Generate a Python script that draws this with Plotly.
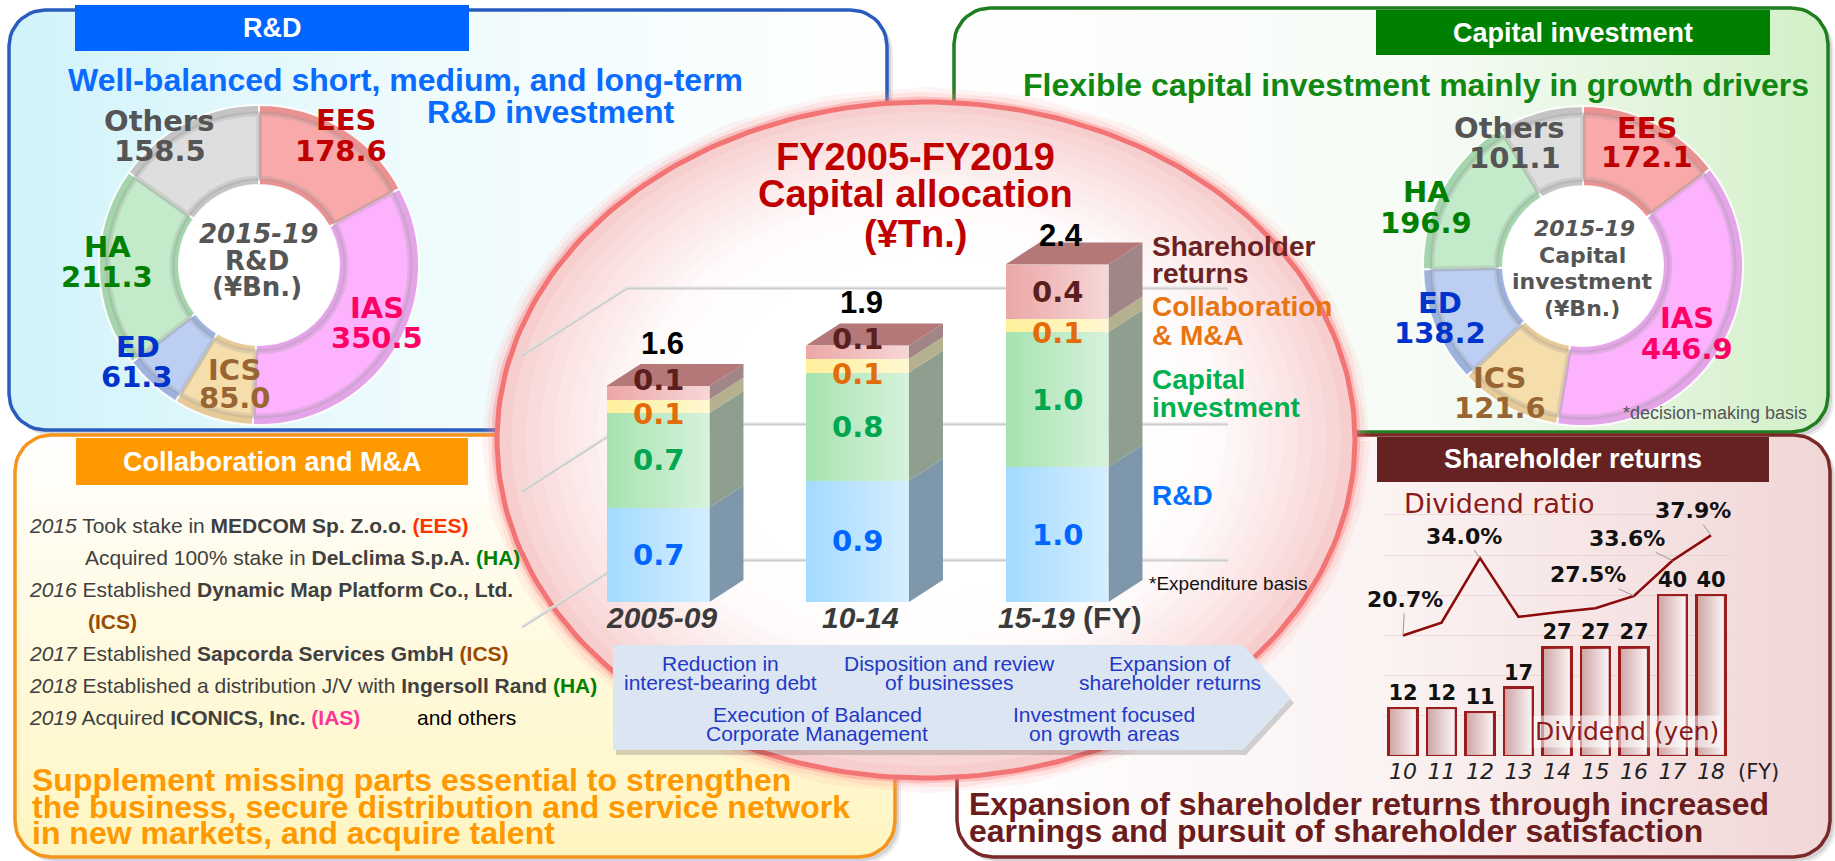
import numpy as np
import plotly.graph_objects as go

W, H = 1835, 861
ARIAL = "Liberation Sans, Arial, sans-serif"
VERD = "DejaVu Sans, Verdana, sans-serif"

# ---------------- data ----------------
rd_segments = ["EES", "IAS", "ICS", "ED", "HA", "Others"]
rd_values = [178.6, 350.5, 85.0, 61.3, 211.3, 158.5]

capex_segments = ["EES", "IAS", "ICS", "ED", "HA", "Others"]
capex_values = [172.1, 446.9, 121.6, 138.2, 196.9, 101.1]

periods = ["2005-09", "10-14", "15-19"]
alloc_rd = [0.7, 0.9, 1.0]
alloc_capex = [0.7, 0.8, 1.0]
alloc_ma = [0.1, 0.1, 0.1]
alloc_returns = [0.1, 0.1, 0.4]
alloc_totals = [1.6, 1.9, 2.4]

fiscal_years = ["10", "11", "12", "13", "14", "15", "16", "17", "18"]
dividend_yen = [12, 12, 11, 17, 27, 27, 27, 40, 40]
payout_ratio = [20.7, 22.9, 34.0, 23.9, 24.7, 25.4, 27.5, 33.6, 37.9]
payout_labelled = [0, 2, 6, 7, 8]

# ---------------- helpers ----------------
fig = go.Figure()


def px(x):
    return x / W


def py(y):
    return 1 - y / H


def canvas(xs, ys, **kw):
    fig.add_trace(go.Scatter(x=list(xs), y=[H - v for v in ys], xaxis="x", yaxis="y",
                             hoverinfo="skip", showlegend=False, **kw))


def rounded_rect(x0, y0, x1, y1, r, n=12):
    pts = []
    for cx, cy, a0, a1 in [(x1 - r, y0 + r, -90, 0), (x1 - r, y1 - r, 0, 90),
                           (x0 + r, y1 - r, 90, 180), (x0 + r, y0 + r, 180, 270)]:
        for a in np.linspace(a0, a1, n):
            t = np.radians(a)
            pts.append((cx + r * np.cos(t), cy + r * np.sin(t)))
    pts.append(pts[0])
    return [p[0] for p in pts], [p[1] for p in pts]


def ellipse(cx, cy, rx, ry, n=240):
    t = np.linspace(0, 2 * np.pi, n)
    return cx + rx * np.cos(t), cy + ry * np.sin(t)


def text(x, y, s, size, color, family=ARIAL, xanchor="center", **kw):
    fig.add_annotation(x=px(x), y=py(y), xref="paper", yref="paper", text=s, showarrow=False,
                       font=dict(family=family, size=size, color=color),
                       xanchor=xanchor, yanchor="middle", **kw)


NOLINE = dict(color="rgba(0,0,0,0)", width=0)

# ---------------- panels ----------------
panels = [
    (9, 10, 887, 430, "#2a5cbf", "horizontal", [[0, "#d0f3fa"], [0.45, "#eefbfd"], [1, "#ffffff"]]),
    (954, 8, 1828, 432, "#1f7f1f", "horizontal", [[0, "#ffffff"], [0.55, "#f6fbf5"], [1, "#d2f0c8"]]),
    (15, 435, 895, 857, "#f7941d", "vertical", [[0, "#fff5c0"], [0.6, "#fffbe6"], [1, "#ffffff"]]),
    (957, 435, 1830, 857, "#7a2828", "horizontal", [[0, "#ffffff"], [0.5, "#fbf2f2"], [1, "#f1d6d6"]]),
]
for x0, y0, x1, y1, border, gtype, cs in panels:
    for off, alpha in [(6, 0.07), (4, 0.10)]:
        xs, ys = rounded_rect(x0 + off, y0 + off, x1 + off, y1 + off, 36)
        canvas(xs, ys, mode="lines", fill="toself", fillcolor=f"rgba(0,0,0,{alpha})", line=NOLINE)
for x0, y0, x1, y1, border, gtype, cs in panels:
    xs, ys = rounded_rect(x0, y0, x1, y1, 36)
    canvas(xs, ys, mode="lines", fill="toself", fillgradient=dict(type=gtype, colorscale=cs),
           line=dict(color=border, width=3.5))

# header boxes
headers = [
    (75, 5, 469, 51, "#0066ff", "R&D"),
    (1376, 10, 1770, 55, "#008000", "Capital investment"),
    (76, 438, 468, 485, "#ff9900", "Collaboration and M&A"),
    (1377, 437, 1769, 482, "#662222", "Shareholder returns"),
]
for x0, y0, x1, y1, col, _ in headers:
    canvas([x0, x1, x1, x0, x0], [y0, y0, y1, y1, y0], mode="lines", fill="toself",
           fillcolor=col, line=NOLINE)

# white centres behind the donut holes
for cx, cy in [(259, 265), (1583, 266)]:
    xs, ys = ellipse(cx, cy, 81, 81, 120)
    canvas(xs, ys, mode="lines", fill="toself", fillcolor="#ffffff",
           line=dict(color="rgba(160,160,160,0.35)", width=2))

# ---------------- central ellipse ----------------
ECX, ECY, ERX, ERY = 926, 440, 429, 338
exs, eys = ellipse(ECX, ECY, ERX, ERY)
for w, c in [(30, "rgba(255,150,150,0.10)"), (20, "rgba(255,140,140,0.16)"), (11, "rgba(250,110,110,0.30)")]:
    canvas(exs, eys, mode="lines", line=dict(color=c, width=w))
# soft pink rim fading to a white centre, built from nested ellipses
edge_rgb, mid_rgb = np.array([246, 206, 206]), np.array([255, 250, 250])
for s in np.linspace(1.0, 0.5, 16):
    t = (1.0 - s) / 0.5
    if t < 0.6:
        rgb = edge_rgb + (mid_rgb - edge_rgb) * (t / 0.6) ** 0.8
    else:
        rgb = mid_rgb + (np.array([255, 255, 255]) - mid_rgb) * ((t - 0.6) / 0.4)
    col = "rgb({},{},{})".format(*[int(round(c)) for c in rgb])
    sx, sy = ellipse(ECX, ECY - (1 - s) * 30, ERX * s, ERY * s)
    canvas(sx, sy, mode="lines", fill="toself", fillcolor=col, line=NOLINE)
canvas(exs, eys, mode="lines", line=dict(color="#f27474", width=5))

# back-wall grid lines and floor diagonals of the 3D bar chart
for g in [288, 424, 560]:
    canvas([522, 627, 1228], [g + 67, g, g], mode="lines", line=dict(color="#cdcdcd", width=3))
    canvas([522, 627, 1228], [g + 66, g - 1, g - 1], mode="lines",
           line=dict(color="rgba(255,255,255,0.7)", width=1))

# arrow box
arrow_x = [613, 1243, 1291, 1243, 613, 613]
arrow_y = [645, 645, 698, 750, 750, 645]
canvas([v + 3 for v in arrow_x], [v + 5 for v in arrow_y], mode="lines", fill="toself",
       fillcolor="rgba(0,0,0,0.16)", line=NOLINE)
canvas(arrow_x, arrow_y, mode="lines", fill="toself", fillcolor="#dce6f2", line=NOLINE)

# ---------------- 3D stacked bars (x2 / y2) ----------------
BAR_W = 0.516
DX, DY = 34 / 199.5, 22 / 135
segments = [
    ("R&D", alloc_rd, "#a3daff", "#7f97ab", "#0066ff"),
    ("Capital investment", alloc_capex, "#a6e3b0", "#8e9f8f", "#00a650"),
    ("Collaboration & M&A", alloc_ma, "#fff09a", "#b5b18e", "#e36c0a"),
    ("Shareholder returns", alloc_returns, "#eca6a6", "#a08686", "#5c1f1f"),
]
xs_idx = list(range(len(periods)))
for name, vals, front, side, lab in segments:
    fig.add_trace(go.Bar(x=xs_idx, y=vals, width=BAR_W, marker=dict(color=front, line=dict(width=0)),
                         xaxis="x2", yaxis="y2", hoverinfo="skip", showlegend=False, name=name))

base = [0.0] * len(periods)
for name, vals, front, side, lab in segments:
    for i, v in enumerate(vals):
        b, t = base[i], base[i] + v
        xr = i + BAR_W / 2
        fig.add_trace(go.Scatter(x=[xr, xr + DX, xr + DX, xr, xr], y=[b, b + DY, t + DY, t, b],
                                 mode="lines", fill="toself", fillcolor=side, line=NOLINE,
                                 xaxis="x2", yaxis="y2", hoverinfo="skip", showlegend=False))
        # segment value label
        nudge = 0
        if v < 0.15 and name == "Shareholder returns":
            nudge = 13
        elif v < 0.15 and name == "Collaboration & M&A":
            nudge = -8
        fig.add_annotation(x=i, y=b + v / 2, xref="x2", yref="y2", text=f"<b>{v:.1f}</b>",
                           showarrow=False, yshift=nudge,
                           font=dict(family=VERD, size=29, color=lab))
        base[i] = t

for i, top in enumerate(base):
    xl, xr = i - BAR_W / 2, i + BAR_W / 2
    # highlight sweep on the front face
    fig.add_trace(go.Scatter(x=[xl, xr, xr, xl, xl], y=[0, 0, top, top, 0], mode="lines", fill="toself",
                             fillgradient=dict(type="horizontal",
                                               colorscale=[[0, "rgba(255,255,255,0)"],
                                                           [1, "rgba(255,255,255,0.55)"]]),
                             line=NOLINE, xaxis="x2", yaxis="y2", hoverinfo="skip", showlegend=False))
    # top face
    fig.add_trace(go.Scatter(x=[xl, xl + DX, xr + DX, xr, xl], y=[top, top + DY, top + DY, top, top],
                             mode="lines", fill="toself", fillcolor="#b47878", line=NOLINE,
                             xaxis="x2", yaxis="y2", hoverinfo="skip", showlegend=False))
    # stated period total above the bar
    fig.add_annotation(x=i, y=alloc_totals[i], xref="x2", yref="y2", text=f"<b>{alloc_totals[i]:.1f}</b>",
                       showarrow=False, yshift=43, xshift=4,
                       font=dict(family=ARIAL, size=31, color="#000000"))
    # period label under the bar
    lab = f"<b><i>{periods[i]}</i></b>" + (" <b>(FY)</b>" if i == len(periods) - 1 else "")
    fig.add_annotation(x=i, y=0, xref="x2", yref="y2", text=lab, showarrow=False,
                       yanchor="middle", yshift=-15, xshift=(12 if i == len(periods) - 1 else 3),
                       font=dict(family=ARIAL, size=30, color="#3a3a3a"))

# ---------------- dividend chart (x3 / y3, y4) ----------------
fy_idx = list(range(len(fiscal_years)))
DIV_W = 0.75
fig.add_trace(go.Bar(x=fy_idx, y=dividend_yen, width=DIV_W, xaxis="x3", yaxis="y3",
                     marker=dict(color="#cfa3a3", line=dict(color="#9b1c1c", width=2.5)),
                     text=[str(v) for v in dividend_yen], texttemplate="<b>%{text}</b>",
                     textposition="outside", constraintext="none", cliponaxis=False,
                     textfont=dict(family=VERD, size=21, color="#111111"),
                     hoverinfo="skip", showlegend=False, name="Dividend"))
for i, v in enumerate(dividend_yen):
    xl, xr = i - DIV_W / 2 + 0.045, i + DIV_W / 2 - 0.045
    fig.add_trace(go.Scatter(x=[xl, xr, xr, xl, xl], y=[0.35, 0.35, v - 0.35, v - 0.35, 0.35],
                             mode="lines", fill="toself",
                             fillgradient=dict(type="horizontal",
                                               colorscale=[[0, "rgba(255,255,255,0.05)"],
                                                           [1, "rgba(255,255,255,0.88)"]]),
                             line=NOLINE, xaxis="x3", yaxis="y3", hoverinfo="skip", showlegend=False))

fig.add_trace(go.Scatter(x=fy_idx, y=payout_ratio, mode="lines", xaxis="x3", yaxis="y4",
                         line=dict(color="#8b0a0a", width=2.6), hoverinfo="skip", showlegend=False,
                         name="Dividend ratio"))
ratio_offsets = {0: (2, -36), 2: (-16, -22), 6: (-46, -21), 7: (-46, -22), 8: (-18, -25)}
for i in payout_labelled:
    ax, ay = ratio_offsets[i]
    fig.add_annotation(x=i, y=payout_ratio[i], xref="x3", yref="y4", text=f"<b>{payout_ratio[i]:.1f}%</b>",
                       showarrow=True, arrowhead=0, arrowwidth=1, arrowcolor="#9a9a9a", ax=ax, ay=ay,
                       standoff=0, font=dict(family=VERD, size=22, color="#111111"))

# ---------------- donuts ----------------
def donut(values, labels, cx, cy, r, hole, colors, line):
    fig.add_trace(go.Pie(values=values, labels=labels, hole=hole, sort=False, direction="clockwise",
                         rotation=0, textinfo="none", hoverinfo="skip", showlegend=False,
                         marker=dict(colors=colors, line=line),
                         domain=dict(x=[px(cx - r), px(cx + r)], y=[py(cy + r), py(cy - r)])))


rim = ["#ea9292", "#e4a4e8", "#e6ca98", "#9db2dd", "#a5d5ad", "#c4c4c4"]
inner = ["#f9a9a9", "#fdb2fd", "#f6deac", "#bccff2", "#c3eac9", "#dedede"]
for vals, labs, cx, cy in [(rd_values, rd_segments, 259, 265), (capex_values, capex_segments, 1583, 266)]:
    donut(vals, labs, cx, cy, 160, 0.5, rim, dict(color="rgba(255,255,255,0.9)", width=2))
    donut(vals, labs, cx, cy, 151, 0.575, inner, dict(color="rgba(150,150,150,0.25)", width=5))

seg_colors = {"EES": "#c00000", "IAS": "#ff0066", "ICS": "#996633", "ED": "#0033cc",
              "HA": "#008000", "Others": "#555555"}
rd_label_pos = {"Others": (159, 121, 160, 151), "EES": (346, 120, 341, 151), "HA": (107, 247, 107, 277),
                "IAS": (377, 308, 377, 338), "ED": (138, 347, 137, 377), "ICS": (235, 370, 235, 398)}
cap_label_pos = {"Others": (1509, 128, 1515, 158), "EES": (1647, 128, 1647, 157), "HA": (1426, 192, 1426, 223),
                 "ED": (1440, 303, 1440, 333), "IAS": (1687, 318, 1687, 349), "ICS": (1500, 378, 1500, 408)}
for segs, vals, pos in [(rd_segments, rd_values, rd_label_pos), (capex_segments, capex_values, cap_label_pos)]:
    for s, v in zip(segs, vals):
        x1, y1, x2, y2 = pos[s]
        text(x1, y1, f"<b>{s}</b>", 29, seg_colors[s], VERD)
        text(x2, y2, f"<b>{v:.1f}</b>", 29, seg_colors[s], VERD)

text(258, 234, "<b><i>2015-19</i></b>", 26, "#555555", VERD)
text(257, 261, "<b>R&D</b>", 26, "#555555", VERD)
text(257, 287, "<b>(¥Bn.)</b>", 26, "#555555", VERD)
text(1584, 228, "<b><i>2015-19</i></b>", 22, "#555555", VERD)
text(1582, 255, "<b>Capital</b>", 22, "#555555", VERD)
text(1582, 281, "<b>investment</b>", 22, "#555555", VERD)
text(1582, 309, "<b>(¥Bn.)</b>", 22, "#555555", VERD)
text(1715, 413, "*decision-making basis", 18, "#555555")

# ---------------- headers and headlines ----------------
for x0, y0, x1, y1, col, label in headers:
    text((x0 + x1) / 2, (y0 + y1) / 2, f"<b>{label}</b>", 27, "#ffffff")

text(405, 80, "<b>Well-balanced short, medium, and long-term</b>", 32, "#0a6cff")
text(551, 112, "<b>R&D investment</b>", 32, "#0a6cff")
text(1416, 85, "<b>Flexible capital investment mainly in growth drivers</b>", 32, "#118811")

text(915, 157, "<b>FY2005-FY2019</b>", 38, "#c00000")
text(915, 194, "<b>Capital allocation</b>", 38, "#c00000")
text(915, 234, "<b>(¥Tn.)</b>", 38, "#c00000")

# legend-style labels beside the 3D bars
for y, s, c in [(246, "Shareholder", "#6b2222"), (273, "returns", "#6b2222"),
                (307, "Collaboration", "#e87511"), (335, "& M&A", "#e87511"),
                (380, "Capital", "#00b050"), (407, "investment", "#00b050"),
                (495, "R&D", "#0070ff")]:
    text(1150, y, f"<b>{s}</b>", 28, c, xanchor="left")
text(1147, 583, "*Expenditure basis", 19, "#111111", xanchor="left")

# arrow box captions
for x, y1, y2, a, b in [(720, 663, 682, "Reduction in", "interest-bearing debt"),
                        (949, 663, 682, "Disposition and review", "of businesses"),
                        (1170, 663, 682, "Expansion of", "shareholder returns"),
                        (817, 714, 733, "Execution of Balanced", "Corporate Management"),
                        (1104, 714, 733, "Investment focused", "on growth areas")]:
    text(x, y1, a, 21, "#2338c8")
    text(x, y2, b, 21, "#2338c8")

# collaboration list
DG = "#404040"
tag = lambda s, c: f"<b><span style='color:{c}'>{s}</span></b>"
items = [
    (27, 525, f"<i>2015</i> Took stake in <b>MEDCOM Sp. Z.o.o.</b> " + tag("(EES)", "#ff3300")),
    (83, 557, "Acquired 100% stake in <b>DeLclima S.p.A.</b> " + tag("(HA)", "#008000")),
    (27, 589, "<i>2016</i> Established <b>Dynamic Map Platform Co., Ltd.</b>"),
    (86, 621, tag("(ICS)", "#994c00")),
    (27, 653, "<i>2017</i> Established <b>Sapcorda Services GmbH</b> " + tag("(ICS)", "#994c00")),
    (27, 685, "<i>2018</i> Established a distribution J/V with <b>Ingersoll Rand</b> " + tag("(HA)", "#008000")),
    (27, 717, "<i>2019</i> Acquired <b>ICONICS, Inc.</b> " + tag("(IAS)", "#ff3399")),
]
for x, y, s in items:
    text(x, y, s, 21, DG, xanchor="left")
text(415, 717, "and others", 21, "#000000", xanchor="left")

for y, s in [(780, "Supplement missing parts essential to strengthen"),
             (807, "the business, secure distribution and service network"),
             (833, "in new markets, and acquire talent")]:
    text(30, y, f"<b>{s}</b>", 32, "#ff9900", xanchor="left")

for y, s in [(804, "Expansion of shareholder returns through increased"),
             (831, "earnings and pursuit of shareholder satisfaction")]:
    text(967, y, f"<b>{s}</b>", 32, "#6b1c1c", xanchor="left")

# dividend chart captions
text(1499, 503, "Dividend ratio", 27, "#8b1a1a", VERD)
text(1627, 731, "Dividend (yen)", 25, "#8b1a1a", VERD, bgcolor="rgba(255,255,255,0.55)")
text(1758, 772, "(FY)", 21, "#222222", VERD)

# ---------------- layout ----------------
hidden = dict(visible=False, fixedrange=True)
fig.update_layout(
    width=W, height=H, autosize=False, margin=dict(l=0, r=0, t=0, b=0),
    paper_bgcolor="#ffffff", plot_bgcolor="rgba(0,0,0,0)", barmode="stack",
    xaxis=dict(domain=[0, 1], range=[0, W], **hidden),
    yaxis=dict(domain=[0, 1], range=[0, H], **hidden),
    xaxis2=dict(domain=[px(558.25), px(1156.75)], range=[-0.5, 2.5], anchor="y2", **hidden),
    yaxis2=dict(domain=[py(602), py(602 - 2.8 * 135)], range=[0, 2.8], anchor="x2", **hidden),
    xaxis3=dict(domain=[px(1383.75), px(1730.25)], range=[-0.5, 8.5], anchor="y3", fixedrange=True,
                showgrid=False, zeroline=False, showline=False, ticks="",
                tickvals=fy_idx, ticktext=[f"<i>{y}</i>" for y in fiscal_years],
                tickfont=dict(family=VERD, size=22, color="#222222")),
    yaxis3=dict(domain=[py(756), py(500)], range=[0, 256 / 4.02], anchor="x3", fixedrange=True,
                showticklabels=False, showgrid=True, gridcolor="rgba(190,150,150,0.22)", gridwidth=1,
                dtick=10, zeroline=False, showline=False),
    yaxis4=dict(overlaying="y3", range=[0, 256 / 5.82], anchor="x3", **hidden),
)

fig.write_html("out.html", config={"displayModeBar": False})
